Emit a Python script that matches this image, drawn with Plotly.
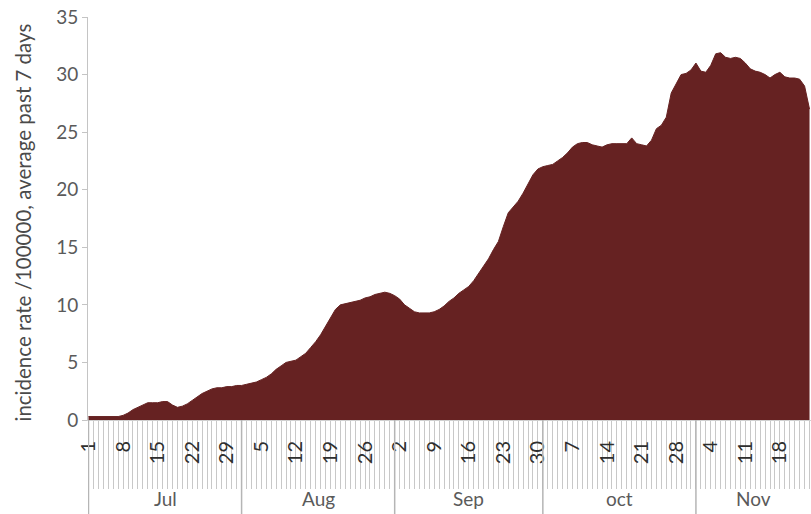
import plotly.graph_objects as go

# ---- data ----
months = ["Jul", "Aug", "Sep", "oct", "Nov"]
month_days = [31, 31, 30, 31, 24]  # days shown per month (Nov cut at 24)

jul = [0.3, 0.3, 0.3, 0.3, 0.3, 0.3, 0.3, 0.4, 0.6, 0.9, 1.1, 1.3, 1.5, 1.5, 1.5, 1.6,
       1.6, 1.3, 1.1, 1.2, 1.4, 1.7, 2.0, 2.3, 2.5, 2.7, 2.8, 2.8, 2.9, 2.9, 3.0]
aug = [3.0, 3.1, 3.2, 3.3, 3.5, 3.7, 4.0, 4.4, 4.7, 5.0, 5.1, 5.2, 5.5, 5.8, 6.3, 6.8,
       7.4, 8.1, 8.8, 9.6, 10.0, 10.1, 10.2, 10.3, 10.4, 10.6, 10.7, 10.9, 11.0, 11.1, 11.0]
sep = [10.8, 10.5, 10.0, 9.7, 9.4, 9.3, 9.3, 9.3, 9.4, 9.6, 9.9, 10.3, 10.6, 11.0, 11.3,
       11.6, 12.1, 12.7, 13.3, 14.0, 14.8, 15.5, 16.8, 18.0, 18.5, 19.0, 19.7, 20.5, 21.3, 21.8]
octo = [22.0, 22.1, 22.2, 22.5, 22.8, 23.2, 23.7, 24.0, 24.1, 24.1, 23.9, 23.8, 23.7, 23.9,
        24.0, 24.0, 24.0, 24.0, 24.5, 24.0, 23.9, 23.8, 24.3, 25.3, 25.6, 26.3, 28.4, 29.2,
        30.0, 30.1, 30.4]
nov = [31.0, 30.3, 30.2, 30.8, 31.8, 31.9, 31.5, 31.4, 31.5, 31.4, 31.0, 30.5, 30.3, 30.2,
       30.0, 29.7, 30.0, 30.2, 29.8, 29.7, 29.7, 29.6, 29.0, 27.0]

y_ticks = [0, 5, 10, 15, 20, 25, 30, 35]
y_title = "incidence rate /100000, average past 7 days"

values = jul + aug + sep + octo + nov
day_numbers = []
month_start = []
for n in month_days:
    month_start.append(len(day_numbers))
    day_numbers += list(range(1, n + 1))
idx = list(range(len(values)))

label_idx = idx[::7]
label_txt = [str(day_numbers[i]) for i in label_idx]

X_RANGE = [-0.1, 146.3]

fig = go.Figure()
fig.add_trace(go.Scatter(
    x=idx, y=values, mode="lines", fill="tozeroy",
    line=dict(color="#662222", width=1), fillcolor="#662222",
    hoverinfo="skip", showlegend=False))

FONT = "Lato"
plot_h = 514 - 17 - 94
below = 94 / plot_h

fig.update_layout(
    width=811, height=514,
    margin=dict(l=88, r=0, t=17, b=94),
    paper_bgcolor="white", plot_bgcolor="white",
    xaxis=dict(
        range=X_RANGE, showgrid=False, zeroline=False, automargin=False,
        showline=True, linecolor="#d0d0d0",
        tickmode="array", tickvals=label_idx, ticktext=label_txt,
        tickangle=-90, ticks="", ticklabelstandoff=12,
        tickfont=dict(family=FONT, size=20, color="#2e2e2e"),
        minor=dict(ticks="outside", tick0=0, dtick=1, ticklen=68,
                   tickcolor="#c8c8c8", tickwidth=1),
    ),
    yaxis=dict(
        range=[0, 35], tickvals=y_ticks, showgrid=False, zeroline=False,
        automargin=False,
        showline=True, linecolor="#c4c4c4", linewidth=1,
        ticks="outside", ticklen=5, tickcolor="#c4c4c4",
        tickfont=dict(family=FONT, size=19, color="#5a5a5a"),
    ),
)

fig.add_annotation(text=y_title, xref="paper", yref="paper", x=0, y=0.49,
                   xshift=-79, textangle=-90, showarrow=False,
                   font=dict(family=FONT, size=20.5, color="#4a4a4a"))

# month separators and labels
for k, m in enumerate(months):
    fig.add_shape(type="line", xref="x", yref="paper",
                  x0=month_start[k], x1=month_start[k], y0=0, y1=-below,
                  line=dict(color="#b5b5b5", width=1.5))
    end = month_start[k] + month_days[k]
    if k == len(months) - 1:
        end = X_RANGE[1]
    mid = (month_start[k] + end) / 2
    fig.add_annotation(x=mid, xref="x", y=-(78 / plot_h), yref="paper",
                       text=m, showarrow=False, yanchor="middle",
                       font=dict(family=FONT, size=19, color="#5a5a5a"))

fig.write_html("out.html", config={"displayModeBar": False},
               post_script="document.body.style.margin='0';document.body.style.overflow='hidden';")
